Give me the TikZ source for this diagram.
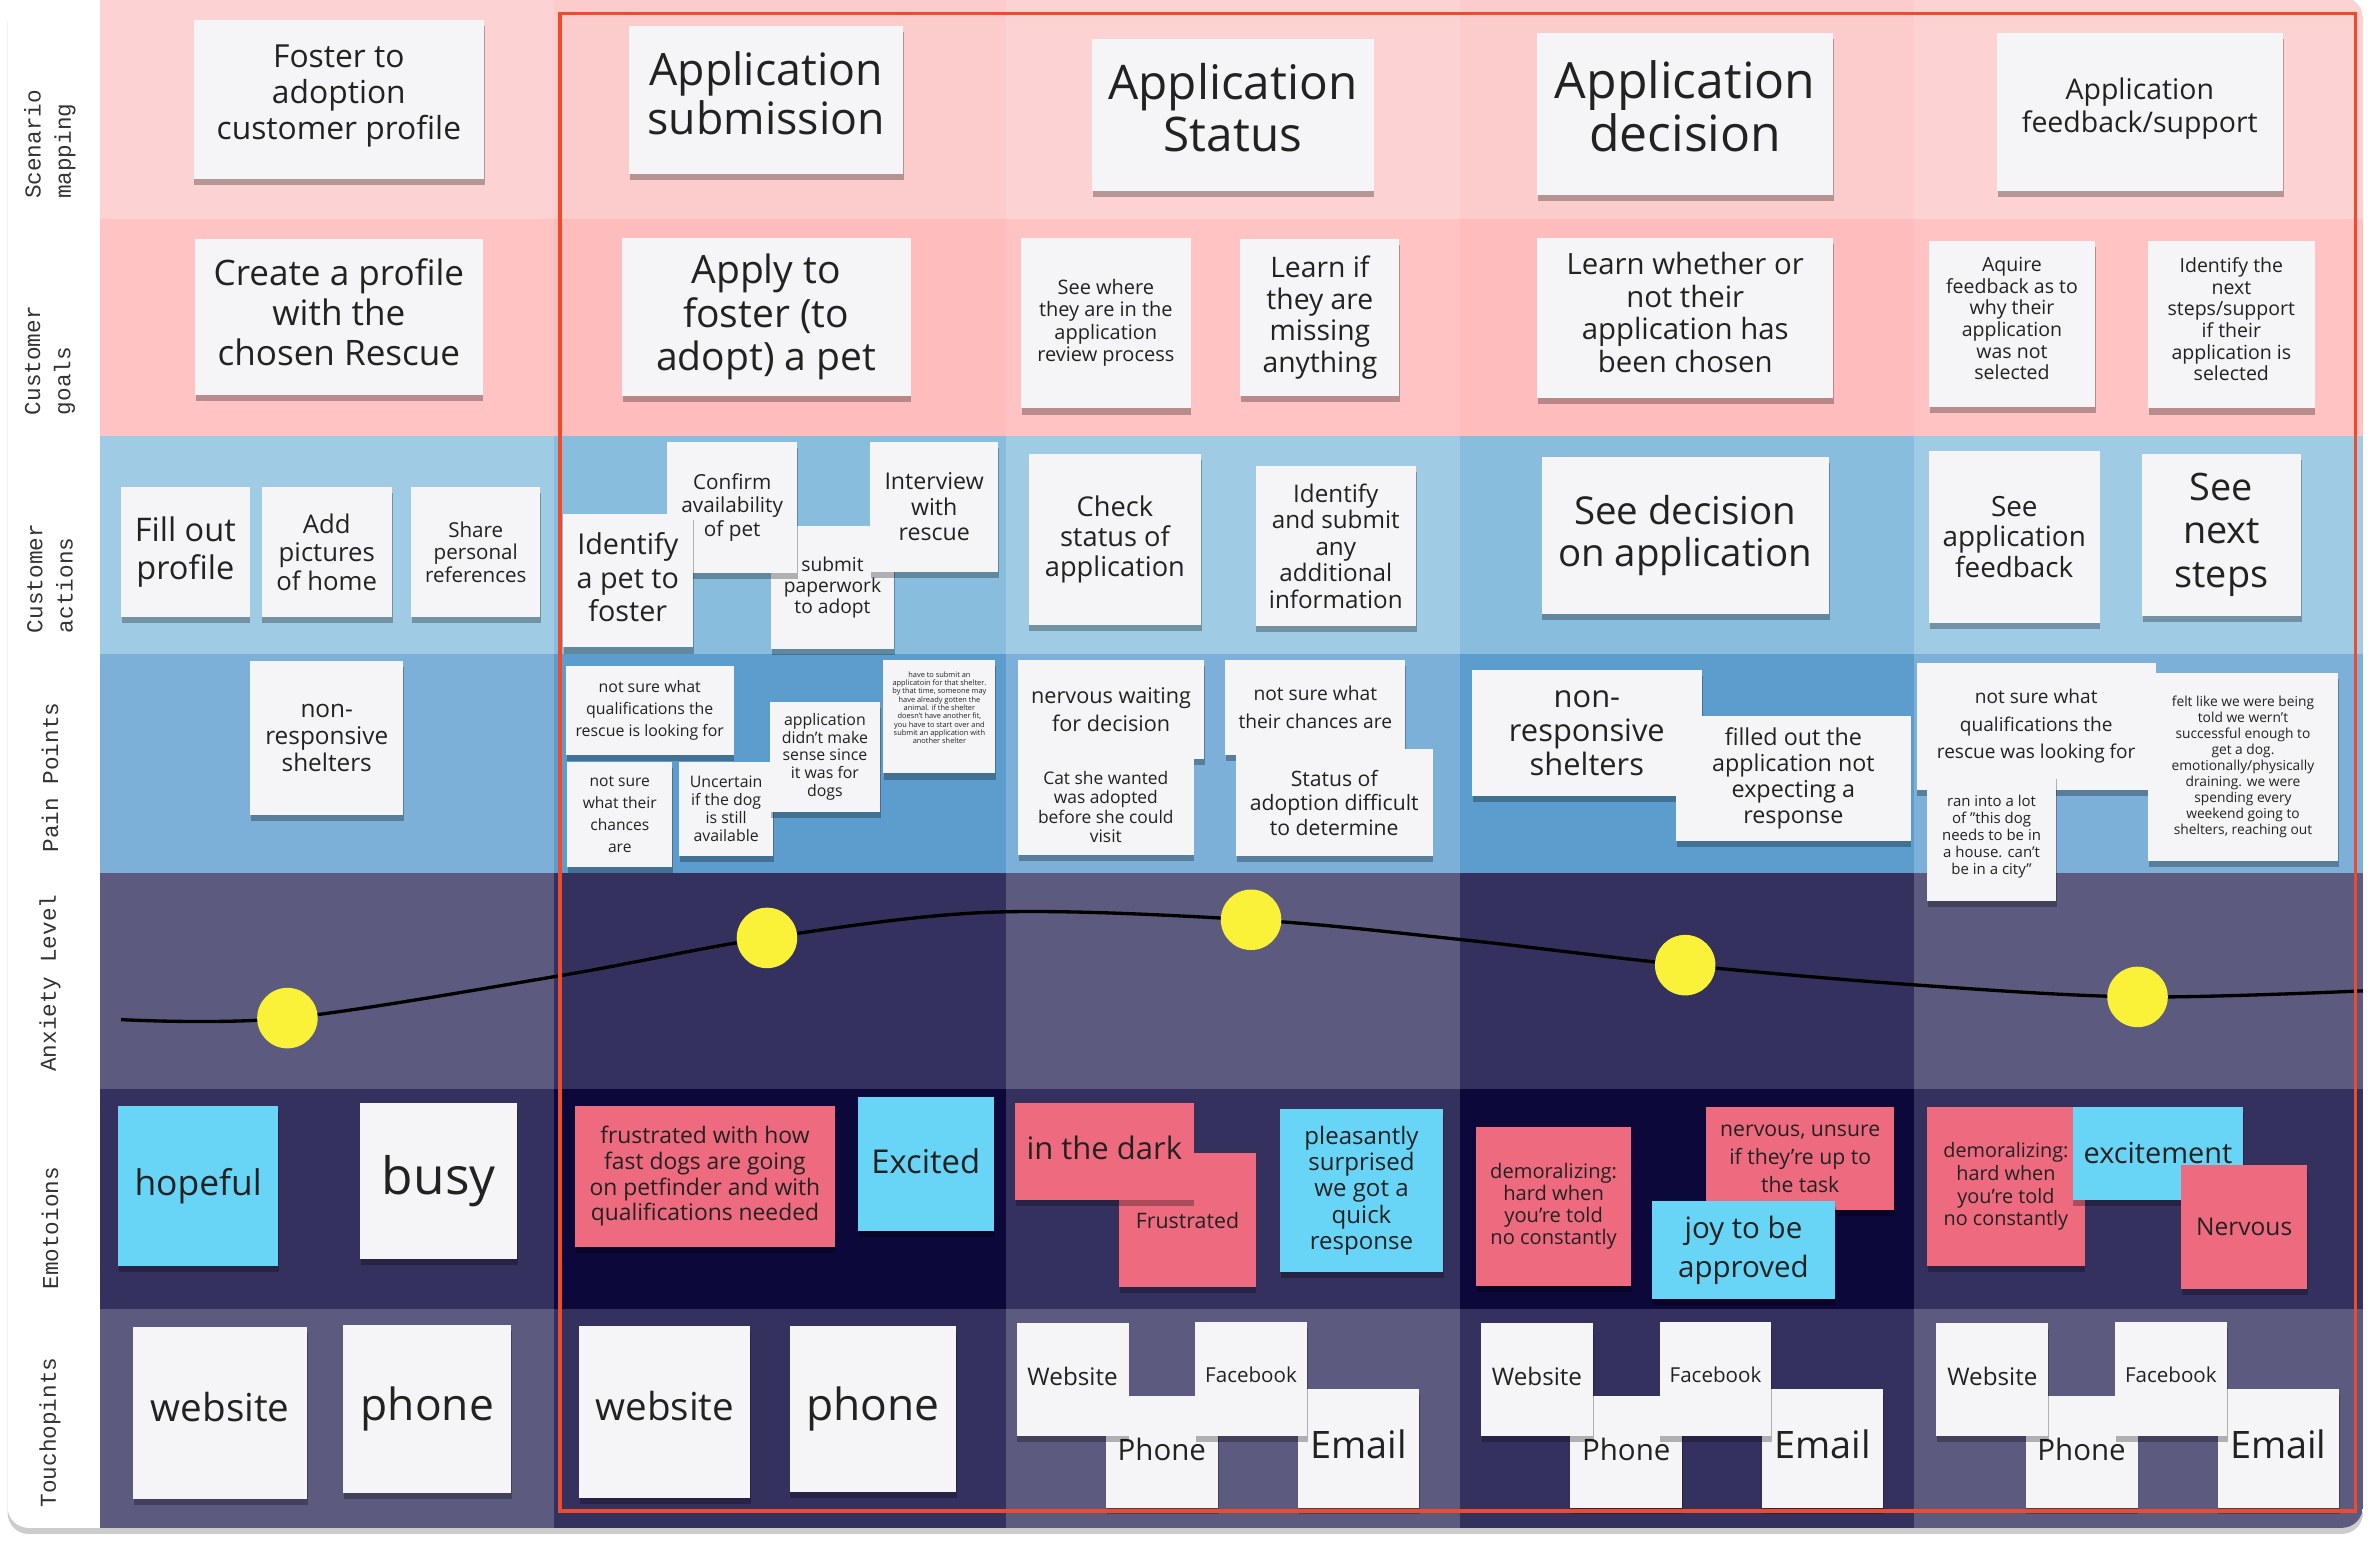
\documentclass[tikz,border=0pt]{standalone}
\usepackage{fontspec}
\setmainfont{Open Sans}
\newfontfamily\labfont{Liberation Mono}
\usetikzlibrary{shadows}
\definecolor{paper}{HTML}{F5F5F7}
\definecolor{blush}{HTML}{EE6A7E}
\definecolor{sky}{HTML}{68D5F7}
\definecolor{sun}{HTML}{F9F238}
\definecolor{alert}{HTML}{EE4A2C}
\definecolor{ink}{HTML}{222222}
\definecolor{labgray}{HTML}{333333}
\definecolor{band1a}{HTML}{FDD2D2}
\definecolor{band1b}{HTML}{FCCCCC}
\definecolor{band2a}{HTML}{FFC3C3}
\definecolor{band2b}{HTML}{FFBCBC}
\definecolor{band3a}{HTML}{A0CBE4}
\definecolor{band3b}{HTML}{88BDDD}
\definecolor{band4a}{HTML}{7CB0D8}
\definecolor{band4b}{HTML}{5C9DCE}
\definecolor{band5a}{HTML}{5D5A7F}
\definecolor{band5b}{HTML}{35315F}
\definecolor{band6a}{HTML}{35315F}
\definecolor{band6b}{HTML}{0C0839}
\definecolor{band7a}{HTML}{5D5A7F}
\definecolor{band7b}{HTML}{35315F}
\newcommand{\fs}[2]{\fontsize{#1}{#2}\selectfont}
% extra room under the last line, lifts the text a little
\newcommand{\dn}[1]{\rule[-#1pt]{0pt}{#1pt}}
\tikzset{
  note/.style     = {fill=paper, text=ink, inner sep=0pt, align=center,
                     drop shadow={shadow xshift=0.5pt, shadow yshift=-4pt,
                     fill=black, opacity=.28}},
  pinknote/.style = {note, fill=blush},
  skynote/.style  = {note, fill=sky},
  sz/.style 2 args = {minimum width=#1, minimum height=#2},
  rowlab/.style   = {rotate=90, anchor=west, align=left, text=labgray,
                     font=\labfont\fs{15}{20}},
  dot/.style      = {circle, fill=sun, inner sep=0pt, minimum size=40},
  anxline/.style  = {line width=2.2pt, black},
  focus/.style    = {draw=alert, line width=2.4pt}
}

\begin{document}
\begin{tikzpicture}[x=1pt, y=-1pt]
  \useasboundingbox (0,0) rectangle (1568,1021);
  % board and lanes
  \fill[white, rounded corners=14pt,
        drop shadow={shadow xshift=0pt, shadow yshift=-4pt, fill=black, opacity=.2}]
       (5,-2) rectangle (1562,1010);
  \begin{scope}
    \clip[rounded corners=14pt] (5,-2) rectangle (1562,1010);
    \foreach \r/\ya/\yb in {1/-2/145, 2/145/288, 3/288/432, 4/432/577,
                            5/577/720, 6/720/865, 7/865/1012} {
      \foreach \xa/\xb/\k in {66/366/a, 366/665/b, 665/965/a, 965/1265/b, 1265/1562/a}
        \fill[fill=band\r\k] (\xa,\ya) rectangle (\xb,\yb);
    }
  \end{scope}

  % lane titles
  \node[rowlab] (lscen)  at (33,135)  {Scenario\\mapping};
  \node[rowlab] (lgoal)  at (33,278)  {Customer\\goals};
  \node[rowlab] (lact)   at (33,422)  {Customer\\actions};
  \node[rowlab] (lpain)  at (33,567)  {Pain Points};
  \node[rowlab] (lanx)   at (33,712)  {Anxiety Level};
  \node[rowlab] (lemo)   at (33,856)  {Emotoions};
  \node[rowlab] (ltouch) at (33,1000) {Touchopints};

  % scenario mapping
  \node[note, sz={192}{105}, font=\fs{21}{24}]     (sc1) at (224,65.5)   {Foster to\\adoption\\customer profile\dn{9}};
  \node[note, sz={181}{98},  font=\fs{29.5}{33}]   (sc2) at (506.5,66)   {Application\\submission\dn{9}};
  \node[note, sz={186}{100}, font=\fs{31.5}{35}]   (sc3) at (815,76)     {Application\\Status\dn{10}};
  \node[note, sz={196}{107}, font=\fs{33}{35}]     (sc4) at (1114,75.5)  {Application\\decision\dn{11}};
  \node[note, sz={189}{104}, font=\fs{18.8}{22}]   (sc5) at (1414.5,74)  {Application\\feedback/support\dn{8.5}};

  % customer goals
  \node[note, sz={190}{103}, font=\fs{23.2}{26.4}] (go1) at (224,209.5)  {Create a profile\\with the\\chosen Rescue\dn{6}};
  \node[note, sz={191}{105}, font=\fs{25.8}{29}]   (go2) at (506.5,209.5){Apply to\\foster (to\\adopt) a pet};
  \node[note, sz={112}{113}, font=\fs{13.2}{14.9}] (go3) at (731,213.5)  {See where\\they are in the\\application\\review process};
  \node[note, sz={105}{104}, font=\fs{18.7}{21}]   (go4) at (872.5,210)  {Learn if\\they are\\missing\\anything};
  \node[note, sz={196}{106}, font=\fs{19.4}{21.7}] (go5) at (1114,210)   {Learn whether or\\not their\\application has\\been chosen\dn{7}};
  \node[note, sz={110}{110}, font=\fs{12.9}{14.3}] (go6) at (1330,214)   {Aquire\\feedback as to\\why their\\application\\was not\\selected\dn{7}};
  \node[note, sz={110}{111}, font=\fs{12.9}{14.3}] (go7) at (1475,214.5) {Identify the\\next\\steps/support\\if their\\application is\\selected\dn{7}};

  % customer actions
  \node[note, sz={85}{86},   font=\fs{21.5}{25}]   (ac1)  at (122.5,365)  {Fill out\\profile};
  \node[note, sz={86}{86},   font=\fs{17}{19}]     (ac2)  at (216,365)    {Add\\pictures\\of home};
  \node[note, sz={85}{86},   font=\fs{13.6}{14.8}] (ac3)  at (314.5,365)  {Share\\personal\\references};
  \node[note, sz={81.5}{81}, font=\fs{12.7}{13.8}] (ac4)  at (550.3,388.5){submit\\paperwork\\to adopt};
  \node[note, sz={86}{87},   font=\fs{13.7}{15.4}] (ac5)  at (484,335.5)  {Confirm\\availability\\of pet};
  \node[note, sz={86}{88},   font=\fs{19}{22}]     (ac6)  at (415,384)    {Identify\\a pet to\\foster\dn{5}};
  \node[note, sz={85}{86},   font=\fs{15.3}{17}]   (ac7)  at (617.5,335)  {Interview\\with\\rescue};
  \node[note, sz={114}{113}, font=\fs{18}{20}]     (ac8)  at (737,356.5)  {Check\\status of\\application};
  \node[note, sz={106}{106}, font=\fs{16}{17.5}]   (ac9)  at (883,361)    {Identify\\and submit\\any\\additional\\information};
  \node[note, sz={190}{104}, font=\fs{25.4}{28}]   (ac10) at (1114,354)   {See decision\\on application};
  \node[note, sz={113}{114}, font=\fs{18.4}{20}]   (ac11) at (1331.5,355) {See\\application\\feedback};
  \node[note, sz={105}{107}, font=\fs{25}{29}]     (ac12) at (1468.5,353.5){See\\next\\steps};

  % pain points
  \node[note, sz={101}{102}, font=\fs{16.1}{18}]   (pa1)  at (216,488)    {non-\\responsive\\shelters};
  \node[note, sz={111}{59},  font=\fs{10.5}{14.3}] (pa2)  at (429.5,469.5){not sure what\\qualifications the\\rescue is looking for};
  \node[note, sz={69.5}{69.5}, font=\fs{10.3}{14.5}] (pa3) at (409.7,538.2){not sure\\what their\\chances\\are};
  \node[note, sz={62}{62.5}, font=\fs{10.5}{11.9}] (pa4)  at (480,534.7)  {Uncertain\\if the dog\\is still\\available};
  \node[note, sz={72.5}{72.6}, font=\fs{10.5}{11.7}] (pa5) at (545.3,500.3){application\\didn't make\\sense since\\it was for\\dogs};
  \node[note, sz={74}{75},   font=\fs{4.9}{5.5}]   (pa6)  at (621,473.8)  {have to submit an\\applicatoin for that shelter.\\by that time, someone may\\have already gotten the\\animal. if the shelter\\doesn't have another fit,\\you have to start over and\\submit an application with\\another shelter\dn{12}};
  \node[note, sz={123}{66},  font=\fs{14.3}{18.7}] (pa7)  at (734.5,469)  {nervous waiting\\for decision};
  \node[note, sz={116}{63},  font=\fs{11.5}{12.8}] (pa8)  at (731,533.5)  {Cat she wanted\\was adopted\\before she could\\visit};
  \node[note, sz={119}{63},  font=\fs{12.7}{18.3}] (pa9)  at (869.5,467.5){not sure what\\their chances are};
  \node[note, sz={130}{71},  font=\fs{14}{16.2}]   (pa10) at (882,530.5)  {Status of\\adoption difficult\\to determine};
  \node[note, sz={152}{83},  font=\fs{20.4}{22.6}] (pa11) at (1049,484.5) {non-\\responsive\\shelters};
  \node[note, sz={155}{83},  font=\fs{15.4}{17}]   (pa12) at (1185.5,514.5){filled out the\\application not\\expecting a\\response};
  \node[note, sz={158}{84},  font=\fs{12.6}{18.2}] (pa13) at (1346,480)   {not sure what\\qualifications the\\rescue was looking for};
  \node[note, sz={85}{84.5}, font=\fs{9.9}{11.2}]  (pa14) at (1316.5,553.2){ran into a lot\\of "this dog\\needs to be in\\a house. can't\\be in a city"};
  \node[note, sz={125.5}{124}, font=\fs{9.1}{10.6}] (pa15) at (1482.7,507){felt like we were being\\told we wern't\\successful enough to\\get a dog.\\emotionally/physically\\draining. we were\\spending every\\weekend going to\\shelters, reaching out};

  % anxiety level
  \coordinate (k0)  at (80,674);
  \coordinate (k1)  at (190,673);
  \coordinate (k2)  at (370,645);
  \coordinate (k3)  at (507,620);
  \coordinate (k4)  at (655,603);
  \coordinate (k5)  at (827,608);
  \coordinate (k6)  at (965,621);
  \coordinate (k7)  at (1114,638);
  \coordinate (k8)  at (1265,651);
  \coordinate (k9)  at (1413,659);
  \coordinate (k10) at (1562,655);
  \draw[anxline] plot[smooth, tension=0.55] coordinates
        {(k0) (k1) (k2) (k3) (k4) (k5) (k6) (k7) (k8) (k9) (k10)};
  \foreach \p in {1,3,5,7,9}
    \node[dot] (dot\p) at (k\p) {};

  % emotions
  \node[skynote,  sz={106}{106}, font=\fs{23.4}{27}]   (em1)  at (131,784)    {hopeful};
  \node[note,     sz={104}{103}, font=\fs{34}{38}]     (em2)  at (290,780.5)  {busy};
  \node[pinknote, sz={172}{93},  font=\fs{15.1}{17}]   (em3)  at (466,777.5)  {frustrated with how\\fast dogs are going\\on petfinder and with\\qualifications needed};
  \node[skynote,  sz={90}{89},   font=\fs{21.7}{25}]   (em4)  at (612,769.5)  {Excited\dn{4}};
  \node[pinknote, sz={90}{89},   font=\fs{14.1}{16}]   (em5)  at (785,806.5)  {Frustrated};
  \node[pinknote, sz={118}{64},  font=\fs{20.5}{23}]   (em6)  at (730,761)    {in the dark\dn{4}};
  \node[skynote,  sz={108}{108}, font=\fs{15.9}{17.4}] (em7)  at (900,787)    {pleasantly\\surprised\\we got a\\quick\\response};
  \node[pinknote, sz={102}{105}, font=\fs{13.3}{14.5}] (em8)  at (1027,797.5) {demoralizing:\\hard when\\you're told\\no constantly};
  \node[pinknote, sz={124}{68},  font=\fs{14}{18.6}]   (em9)  at (1190,766)   {nervous, unsure\\if they're up to\\the task};
  \node[skynote,  sz={121}{65},  font=\fs{19.5}{26.4}] (em10) at (1152.5,826.5){joy to be\\approved};
  \node[pinknote, sz={104}{105}, font=\fs{13.1}{15}]   (em11) at (1326,784.5) {demoralizing:\\hard when\\you're told\\no constantly};
  \node[skynote,  sz={113}{61.5},font=\fs{19.1}{22}]   (em12) at (1426.5,762.2){excitement};
  \node[pinknote, sz={83}{82},   font=\fs{16.2}{19}]   (em13) at (1483.5,811) {Nervous};

  % touchpoints
  \node[note, sz={115}{114}, font=\fs{25.5}{29}] (tp1) at (145.5,934)  {website\dn{8}};
  \node[note, sz={111}{111}, font=\fs{29.3}{33}] (tp2) at (282.5,931.5){phone};
  \node[note, sz={113}{114}, font=\fs{25.5}{29}] (tp3) at (439.5,933.5){website\dn{8}};
  \node[note, sz={110}{110}, font=\fs{29.3}{33}] (tp4) at (577,931.2)  {phone};
  \foreach \dx/\g in {0/c, 307/d, 608/e} {
    \node[note, sz={74}{74}, font=\fs{19.5}{22}]   (phone\g) at (768+\dx,960)   {Phone\dn{4}};
    \node[note, sz={80}{79}, font=\fs{25}{28}]     (email\g) at (898+\dx,957.5) {Email\dn{6}};
    \node[note, sz={74}{75}, font=\fs{16}{19}]     (web\g)   at (709+\dx,912)   {Website\dn{4}};
    \node[note, sz={74}{75}, font=\fs{13.6}{16}]   (fb\g)    at (827+\dx,911.5) {Facebook\dn{6}};
  }

  % focus frame
  \draw[focus] (370,9) rectangle (1557,999);
\end{tikzpicture}
\end{document}
